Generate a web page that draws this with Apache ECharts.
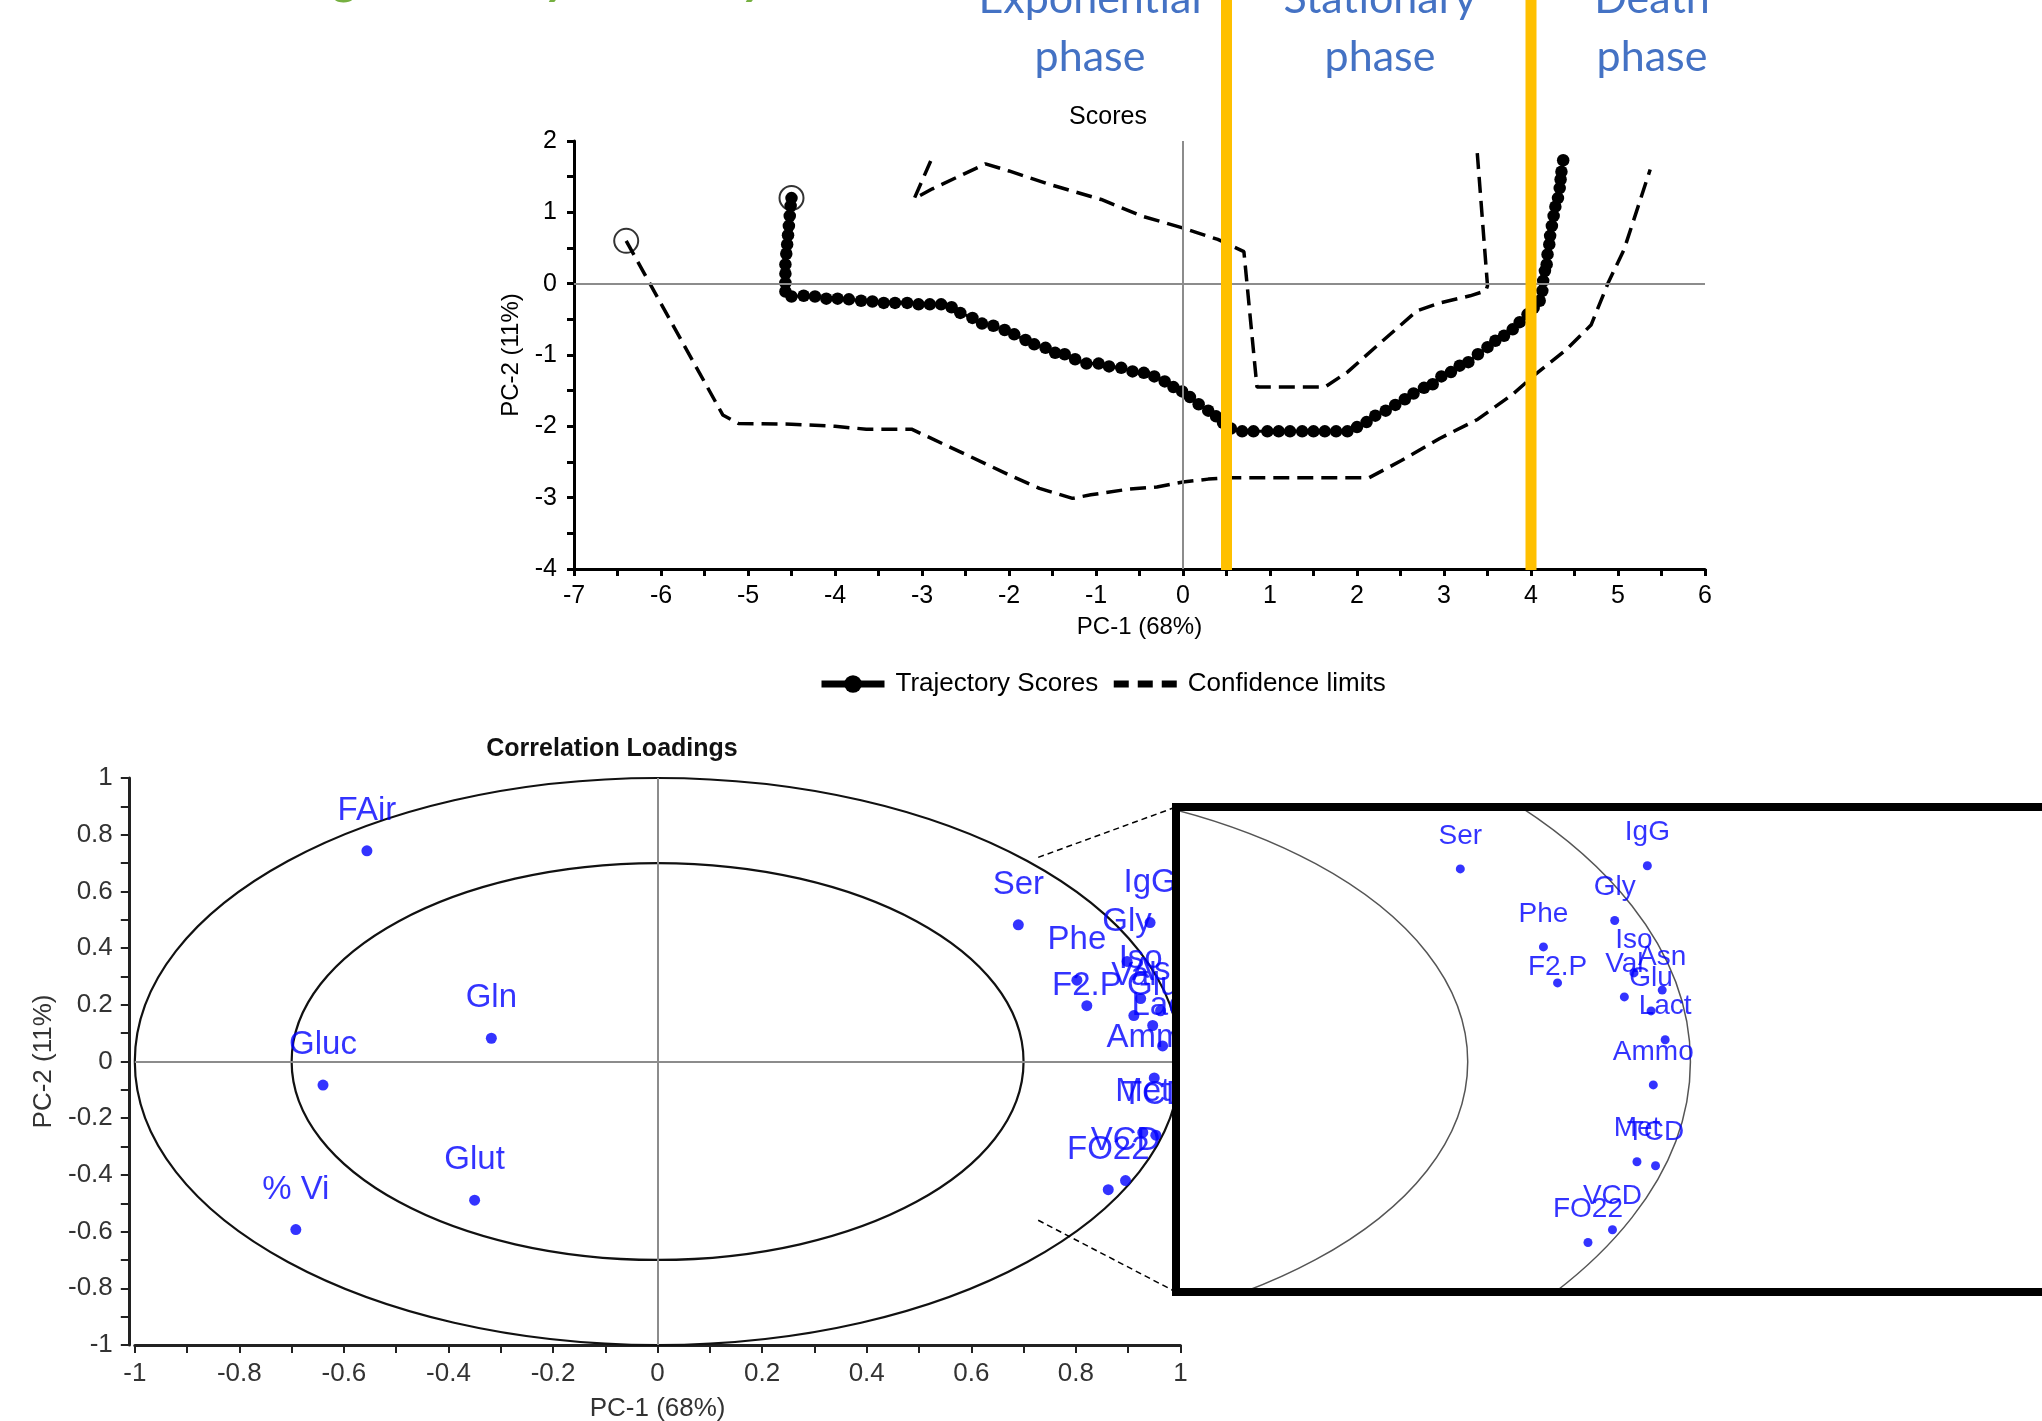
<!DOCTYPE html>
<html><head><meta charset="utf-8">
<script src="https://cdn.jsdelivr.net/npm/echarts@6/dist/echarts.min.js"></script>
<style>html,body{margin:0;padding:0;background:#fff;overflow:hidden}#c{width:2042px;height:1421px}</style>
</head><body><div id="c"></div>
<script>
// ---------------- data ----------------
const trajectoryScores = [
  [-4.50,1.20],[-4.51,1.09],[-4.52,0.95],[-4.53,0.81],[-4.54,0.68],[-4.55,0.55],[-4.56,0.42],[-4.57,0.27],[-4.57,0.14],[-4.57,0.01],[-4.57,-0.11],
  [-4.50,-0.18],[-4.36,-0.17],[-4.23,-0.18],[-4.10,-0.21],[-3.97,-0.21],[-3.84,-0.22],[-3.70,-0.24],[-3.57,-0.25],[-3.44,-0.27],[-3.31,-0.27],
  [-3.17,-0.27],[-3.04,-0.29],[-2.91,-0.29],[-2.78,-0.29],[-2.66,-0.33],[-2.56,-0.41],[-2.42,-0.48],[-2.31,-0.56],[-2.18,-0.59],[-2.05,-0.65],
  [-1.94,-0.71],[-1.81,-0.79],[-1.71,-0.85],[-1.58,-0.90],[-1.47,-0.97],[-1.36,-0.99],[-1.24,-1.06],[-1.11,-1.12],[-0.97,-1.12],[-0.85,-1.16],
  [-0.71,-1.18],[-0.58,-1.23],[-0.45,-1.25],[-0.33,-1.30],[-0.21,-1.37],[-0.11,-1.45],[-0.01,-1.51],[0.08,-1.59],[0.18,-1.69],[0.29,-1.78],
  [0.38,-1.86],[0.46,-1.95],[0.55,-2.03],[0.68,-2.07],[0.81,-2.07],[0.97,-2.07],[1.10,-2.07],[1.23,-2.07],[1.37,-2.07],[1.50,-2.07],
  [1.63,-2.07],[1.76,-2.07],[1.89,-2.07],[2.00,-2.01],[2.11,-1.94],[2.21,-1.85],[2.33,-1.78],[2.44,-1.70],[2.55,-1.62],[2.65,-1.54],
  [2.77,-1.46],[2.87,-1.41],[2.97,-1.30],[3.08,-1.24],[3.18,-1.15],[3.28,-1.10],[3.39,-0.99],[3.50,-0.89],[3.59,-0.80],[3.69,-0.73],
  [3.79,-0.64],[3.87,-0.54],[3.96,-0.43],[4.03,-0.34],[4.10,-0.24],[4.13,-0.10],[4.14,0.04],[4.16,0.18],[4.18,0.27],[4.19,0.41],
  [4.21,0.55],[4.22,0.67],[4.24,0.81],[4.26,0.95],[4.28,1.08],[4.31,1.20],[4.33,1.34],[4.34,1.46],[4.35,1.57],[4.37,1.73]
];
const upperLimit = [
  [-2.90,1.72],[-3.09,1.19],[-2.88,1.33],[-2.27,1.68],[-2.00,1.58],[-1.53,1.39],[-0.94,1.18],[-0.48,0.95],[0.00,0.78],
  [0.40,0.62],[0.70,0.45],[0.85,-1.45],[1.63,-1.45],[1.89,-1.24],[2.25,-0.85],[2.69,-0.38],[2.95,-0.27],[3.30,-0.17],
  [3.48,-0.10],[3.50,-0.03],[3.38,1.87]
];
const lowerLimit = [
  [-6.40,0.60],[-5.29,-1.84],[-5.11,-1.96],[-4.50,-1.97],[-4.00,-2.00],[-3.64,-2.04],[-3.12,-2.04],[-2.47,-2.41],
  [-2.00,-2.68],[-1.65,-2.87],[-1.27,-3.01],[-1.06,-2.96],[-0.62,-2.88],[-0.30,-2.85],[0.00,-2.78],[0.29,-2.74],
  [0.52,-2.72],[2.14,-2.72],[2.51,-2.48],[2.95,-2.17],[3.39,-1.90],[3.79,-1.55],[4.05,-1.27],[4.41,-0.92],
  [4.69,-0.58],[4.89,0.02],[5.07,0.48],[5.37,1.60]
];
const startPoints = [[-4.50,1.20],[-6.40,0.60]];
const phaseBoundaries = [0.5, 4.0];
const phaseLabels = ['Exponential\nphase', 'Stationary\nphase', 'Death\nphase'];

const loadingNames = ['FAir','Gln','Gluc','Glut','% Vi','Ser','IgG','Gly','Phe','F2.P','Iso','Asn','Val','Glu','Lact','Ammo','Met','TCD','VCD','FO22'];
const loadingPC1  = [-0.556,-0.318,-0.640,-0.350,-0.692, 0.690, 0.942, 0.898, 0.802, 0.821, 0.924, 0.962, 0.911, 0.947, 0.966, 0.950, 0.928, 0.953, 0.895, 0.862];
const loadingPC2  = [ 0.743, 0.082,-0.083,-0.489,-0.593, 0.482, 0.490, 0.353, 0.287, 0.197, 0.222, 0.179, 0.162, 0.127, 0.055,-0.058,-0.250,-0.260,-0.420,-0.452];
const circleRadii = [1, 0.7];
const zoomRegionCorners = [[0.728, 0.72], [0.728, -0.56]];

// ---------------- layout / style ----------------
const FF = '"Liberation Sans", Arial, sans-serif';
const INSET = {left: 1176, top: 807, width: 900, height: 485};
const INSET_VISIBLE_W = 2042 - 1176;
const INSET_PX_PER_X = 742.3, INSET_PX_PER_Y = 400;
const labelLiftMain = {'F2.P': 20};
const labelLiftInset = {'F2.P': 16};

const chart = echarts.init(document.getElementById('c'), null, {renderer: 'canvas'});

function loadingData(liftMap, defLift) {
  return loadingNames.map((n, i) => ({
    name: n, value: [loadingPC1[i], loadingPC2[i]],
    label: {offset: [0, -(liftMap[n] !== undefined ? liftMap[n] : defLift)]}
  }));
}
function ellipseRender(color, width) {
  return function (params, api) {
    const c = api.coord([api.value(0), api.value(1)]);
    const s = api.size([api.value(2), api.value(2)]);
    return {type: 'ellipse', shape: {cx: c[0], cy: c[1], rx: s[0], ry: s[1]},
            style: {fill: 'none', stroke: color, lineWidth: width}};
  };
}

const option = {
  animation: false,
  backgroundColor: '#fff',
  textStyle: {fontFamily: FF},
  grid: [
    {left: 574, top: 141, width: 1131, height: 428, outerBoundsMode: 'none', containLabel: false},
    {left: 134.8, top: 778, width: 1045.6, height: 567, outerBoundsMode: 'none', containLabel: false},
    {left: INSET.left, top: INSET.top, width: INSET_VISIBLE_W, height: INSET.height, outerBoundsMode: 'none', containLabel: false}
  ],
  xAxis: [
    {gridIndex: 0, type: 'value', min: -7, max: 6, interval: 1,
     axisLine: {onZero: false, lineStyle: {color: '#000', width: 3}},
     axisTick: {length: 7, lineStyle: {color: '#000', width: 3}},
     minorTick: {show: true, splitNumber: 2, length: 7, lineStyle: {color: '#000', width: 3}},
     splitLine: {show: false}, minorSplitLine: {show: false},
     axisLabel: {fontSize: 25, color: '#000', margin: 15, fontFamily: FF},
     name: 'PC-1 (68%)', nameLocation: 'middle', nameGap: 46,
     nameTextStyle: {fontSize: 24, color: '#000', fontFamily: FF}},
    {gridIndex: 1, type: 'value', min: -1, max: 1, interval: 0.2,
     axisLine: {onZero: false, lineStyle: {color: '#222', width: 3}},
     axisTick: {length: 8, lineStyle: {color: '#222', width: 2}},
     minorTick: {show: true, splitNumber: 2, length: 8, lineStyle: {color: '#222', width: 2}},
     splitLine: {show: false},
     axisLabel: {fontSize: 26, color: '#333', margin: 16, fontFamily: FF},
     name: 'PC-1 (68%)', nameLocation: 'middle', nameGap: 51,
     nameTextStyle: {fontSize: 26, color: '#333', fontFamily: FF}},
    {gridIndex: 2, type: 'value', min: 0.307, max: 0.307 + INSET_VISIBLE_W / INSET_PX_PER_X,
     show: false, splitLine: {show: false}}
  ],
  yAxis: [
    {gridIndex: 0, type: 'value', min: -4, max: 2, interval: 1,
     axisLine: {onZero: false, lineStyle: {color: '#000', width: 3}},
     axisTick: {length: 7, lineStyle: {color: '#000', width: 3}},
     minorTick: {show: true, splitNumber: 2, length: 7, lineStyle: {color: '#000', width: 3}},
     splitLine: {show: false},
     axisLabel: {fontSize: 25, color: '#000', margin: 17, fontFamily: FF},
     name: 'PC-2 (11%)', nameLocation: 'middle', nameGap: 44,
     nameTextStyle: {fontSize: 24, color: '#000', fontFamily: FF}},
    {gridIndex: 1, type: 'value', min: -1, max: 1, interval: 0.2, offset: 6,
     axisLine: {onZero: false, lineStyle: {color: '#222', width: 3}},
     axisTick: {length: 8, lineStyle: {color: '#222', width: 2}},
     minorTick: {show: true, splitNumber: 2, length: 8, lineStyle: {color: '#222', width: 2}},
     splitLine: {show: false},
     axisLabel: {fontSize: 26, color: '#333', margin: 16, fontFamily: FF},
     name: 'PC-2 (11%)', nameLocation: 'middle', nameGap: 64,
     nameTextStyle: {fontSize: 26, color: '#333', fontFamily: FF}},
    {gridIndex: 2, type: 'value', min: -230.3 / INSET_PX_PER_Y, max: 254.7 / INSET_PX_PER_Y,
     show: false, splitLine: {show: false}}
  ],
  legend: {
    left: 813, top: 666, itemWidth: 63, itemHeight: 22, itemGap: 12,
    textStyle: {fontSize: 26, color: '#000', fontFamily: FF, padding: [0, 0, 0, 6]},
    data: [
      {name: 'Trajectory Scores', lineStyle: {width: 7, color: '#000'}, itemStyle: {color: '#000'}},
      {name: 'Confidence limits', lineStyle: {width: 7, color: '#000', type: [15, 9]},
       itemStyle: {color: 'rgba(0,0,0,0)', borderColor: 'rgba(0,0,0,0)', borderWidth: 0, opacity: 0}}
    ]
  },
  series: [
    {type: 'scatter', xAxisIndex: 0, yAxisIndex: 0, data: [], z: 1, silent: true,
     markLine: {symbol: 'none', silent: true, label: {show: false},
       lineStyle: {color: '#8c8c8c', width: 2, type: 'solid'},
       data: [{xAxis: 0}, {yAxis: 0}]}},
    {name: 'Confidence limits', type: 'line', xAxisIndex: 0, yAxisIndex: 0, data: upperLimit,
     showSymbol: false, symbol: 'none', z: 3,
     lineStyle: {color: '#000', width: 3.5, type: [16, 8]}, itemStyle: {color: '#000'}},
    {name: 'Confidence limits', type: 'line', xAxisIndex: 0, yAxisIndex: 0, data: lowerLimit,
     showSymbol: false, symbol: 'none', z: 3,
     lineStyle: {color: '#000', width: 3.5, type: [16, 8]}, itemStyle: {color: '#000'}},
    {name: 'Trajectory Scores', type: 'line', xAxisIndex: 0, yAxisIndex: 0, data: trajectoryScores,
     symbol: 'circle', symbolSize: 12.5, showAllSymbol: true, z: 4,
     lineStyle: {color: '#000', width: 3}, itemStyle: {color: '#000'}},
    {type: 'scatter', xAxisIndex: 0, yAxisIndex: 0, data: startPoints, z: 5, silent: true,
     symbol: 'circle', symbolSize: 24,
     itemStyle: {color: 'rgba(0,0,0,0)', borderColor: '#000', borderWidth: 2}},
    // correlation loadings main
    {type: 'custom', xAxisIndex: 1, yAxisIndex: 1, z: 2, silent: true,
     data: circleRadii.map(r => [0, 0, r]), encode: {x: 0, y: 1},
     renderItem: ellipseRender('#111', 2.2)},
    {type: 'scatter', xAxisIndex: 1, yAxisIndex: 1, z: 2, symbolSize: 11,
     itemStyle: {color: '#0000ff'},
     label: {show: true, position: 'inside', formatter: '{b}', fontSize: 33, color: '#0000ff', fontFamily: FF},
     data: loadingData(labelLiftMain, 40),
     markLine: {symbol: 'none', silent: true, label: {show: false},
       lineStyle: {color: '#8c8c8c', width: 2, type: 'solid'},
       data: [{xAxis: 0}, {yAxis: 0}]}},
    // inset
    {type: 'custom', xAxisIndex: 2, yAxisIndex: 2, z: 10, silent: true, clip: true,
     data: circleRadii.map(r => [0, 0, r]), encode: {x: 0, y: 1},
     renderItem: ellipseRender('#555', 1.5)},
    {type: 'scatter', xAxisIndex: 2, yAxisIndex: 2, z: 10, symbolSize: 9, clip: true,
     itemStyle: {color: '#0000ff'},
     label: {show: true, position: 'inside', formatter: '{b}', fontSize: 28, color: '#0000ff', fontFamily: FF},
     data: loadingData(labelLiftInset, 33),
     markLine: {symbol: 'none', silent: true, label: {show: false},
       lineStyle: {color: '#8c8c8c', width: 1.5, type: 'solid'},
       data: [{yAxis: 0}]}}
  ]
};
chart.setOption(option);

// ---------- annotations positioned through the chart's own scales ----------
const graphics = [];
// cut-off green heading (only descenders visible)
[['Monitoring', 360], ['by', 571], ['day', 768]].forEach(([t, x]) => {
  graphics.push({type: 'text', z: 1, x: x, y: -22,
    style: {text: t, fill: '#76b041', font: 'italic bold 50px Lato, "Open Sans", sans-serif',
      textAlign: 'right', textVerticalAlign: 'middle'}});
});
// phase labels
[1090, 1380, 1652].forEach((x, i) => {
  graphics.push({type: 'text', z: 1, x: x, y: -30,
    style: {text: phaseLabels[i], fill: '#4472C4', font: '43px Lato, "Open Sans", sans-serif',
      lineHeight: 58, textAlign: 'center', textVerticalAlign: 'top'}});
});
// titles
graphics.push({type: 'text', z: 1, x: 1108, y: 117,
  style: {text: 'Scores', fill: '#000', font: '25px ' + FF, textAlign: 'center', textVerticalAlign: 'middle'}});
graphics.push({type: 'text', z: 1, x: 612, y: 749,
  style: {text: 'Correlation Loadings', fill: '#111', font: 'bold 25px ' + FF, textAlign: 'center', textVerticalAlign: 'middle'}});
// orange phase boundaries
phaseBoundaries.forEach(b => {
  const p = chart.convertToPixel({gridIndex: 0}, [b, -4]);
  graphics.push({type: 'rect', z: 10, silent: true,
    shape: {x: p[0] - 5.5, y: 0, width: 11, height: p[1] + 1},
    style: {fill: '#FFC000'}});
});
// inset white background, border and connectors
graphics.push({type: 'rect', z: 5, silent: true,
  shape: {x: INSET.left, y: INSET.top, width: INSET.width, height: INSET.height},
  style: {fill: '#fff'}});
graphics.push({type: 'rect', z: 20, silent: true,
  shape: {x: INSET.left, y: INSET.top, width: INSET.width, height: INSET.height},
  style: {fill: 'none', stroke: '#000', lineWidth: 8}});
const c1 = chart.convertToPixel({gridIndex: 1}, zoomRegionCorners[0]);
const c2 = chart.convertToPixel({gridIndex: 1}, zoomRegionCorners[1]);
graphics.push({type: 'line', z: 3, silent: true,
  shape: {x1: c1[0], y1: c1[1], x2: INSET.left, y2: INSET.top},
  style: {stroke: '#000', lineWidth: 1.5, lineDash: [6, 4]}});
graphics.push({type: 'line', z: 3, silent: true,
  shape: {x1: c2[0], y1: c2[1], x2: INSET.left, y2: INSET.top + INSET.height},
  style: {stroke: '#000', lineWidth: 1.5, lineDash: [6, 4]}});
chart.setOption({graphic: graphics});
</script>
</body></html>
